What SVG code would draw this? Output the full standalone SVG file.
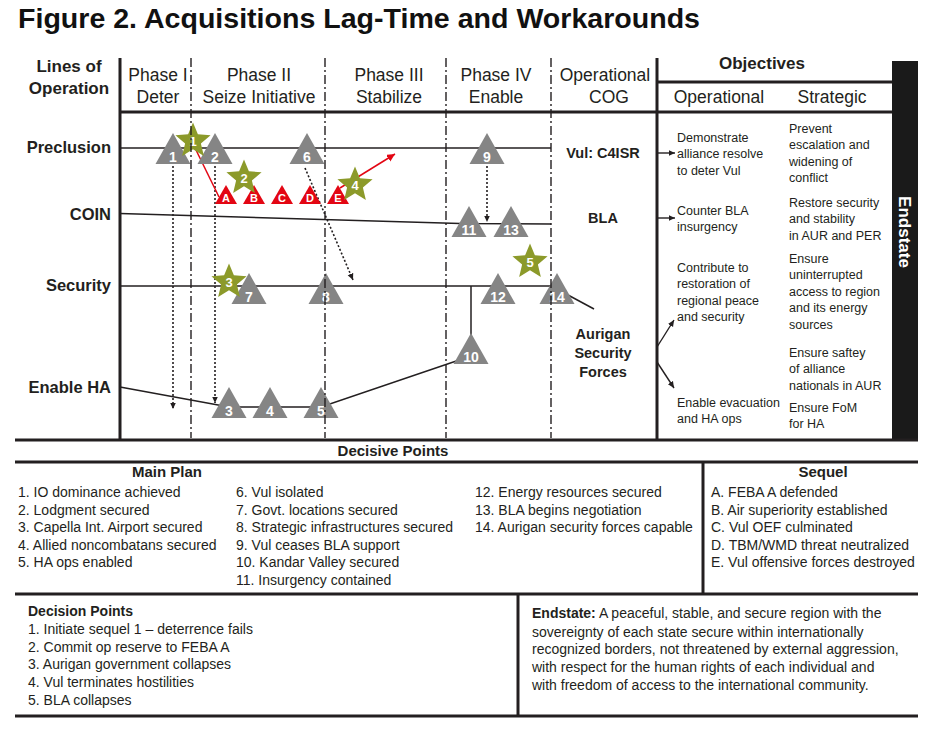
<svg xmlns="http://www.w3.org/2000/svg" width="935" height="733" viewBox="0 0 935 733">
<defs>
<style>
text{font-family:"Liberation Sans",Arial,sans-serif;fill:#231f20}
.title{font-size:28.5px;font-weight:bold;fill:#111}
.hb{font-size:17px;font-weight:bold;text-anchor:middle}
.ph{font-size:17.5px;text-anchor:middle}
.lo{font-size:16.5px;font-weight:bold;text-anchor:end}
.cog{font-size:14.5px;font-weight:bold;text-anchor:middle}
.obj{font-size:12.5px}
.li{font-size:14px}
.sh{font-size:15px;font-weight:bold;text-anchor:middle}
.frame{stroke:#231f20;stroke-width:3;fill:none}
.div{stroke:#231f20;stroke-width:1.4;stroke-dasharray:9 3 2 3;fill:none}
.lop{stroke:#231f20;stroke-width:1.5;fill:none}
.dot{stroke:#231f20;stroke-width:1.6;stroke-dasharray:2 2;fill:none;marker-end:url(#ah)}
.arr{stroke:#231f20;stroke-width:1.4;fill:none;marker-end:url(#ah)}
.red{stroke:#e30613;stroke-width:1.5;fill:none}
.tri{fill:#858585}
.rtri{fill:#e30613}
.star{fill:#8c9a2a}
.nl{fill:#fff;font-weight:bold;font-size:14px;text-anchor:middle}
.sl{fill:#fff;font-weight:bold;font-size:13px;text-anchor:middle}
.rl{fill:#fff;font-weight:bold;font-size:11px;text-anchor:middle}
</style>
<path id="tri" d="M0,-31 L17.5,0 L-17.5,0Z"/>
<path id="rtri" d="M0,-19 L11,0 L-11,0Z"/>
<path id="star" d="M0,-18.5 L4.88,-6.71 L17.59,-5.72 L7.89,2.56 L10.87,14.97 L0,8.3 L-10.87,14.97 L-7.89,2.56 L-17.59,-5.72 L-4.88,-6.71Z"/>
<marker id="ah" markerWidth="8" markerHeight="8" refX="6.5" refY="3.5" orient="auto" markerUnits="userSpaceOnUse"><path d="M0,0.5 L6.5,3.5 L0,6.5Z" fill="#231f20"/></marker>
<marker id="ahr" markerWidth="10" markerHeight="10" refX="8" refY="4" orient="auto" markerUnits="userSpaceOnUse"><path d="M0,0 L8,4 L0,8Z" fill="#e30613"/></marker>
</defs>
<rect width="935" height="733" fill="#fff"/>

<text class="title" x="18" y="28" textLength="682" lengthAdjust="spacingAndGlyphs">Figure 2. Acquisitions Lag-Time and Workarounds</text>

<g id="header">
<text class="hb" x="69" y="72">Lines of</text>
<text class="hb" x="69" y="94">Operation</text>
<text class="ph" x="158" y="81">Phase I</text>
<text class="ph" x="158" y="103">Deter</text>
<text class="ph" x="259" y="81">Phase II</text>
<text class="ph" x="259" y="103">Seize Initiative</text>
<text class="ph" x="389" y="81">Phase III</text>
<text class="ph" x="389" y="103">Stabilize</text>
<text class="ph" x="496" y="81">Phase IV</text>
<text class="ph" x="496" y="103">Enable</text>
<text class="ph" x="605" y="81">Operational</text>
<text class="ph" x="609" y="103">COG</text>
<text class="hb" x="762" y="69">Objectives</text>
<text class="ph" x="719" y="103">Operational</text>
<text class="ph" x="832" y="103">Strategic</text>
</g>

<g id="lines-of-operation">
<text class="lo" x="111" y="153">Preclusion</text>
<text class="lo" x="111" y="220">COIN</text>
<text class="lo" x="111" y="291">Security</text>
<text class="lo" x="111" y="393">Enable HA</text>
</g>

<g id="frame">
<line class="frame" x1="120" y1="58" x2="120" y2="440"/>
<line class="frame" x1="120" y1="112" x2="892" y2="112"/>
<line class="frame" x1="657" y1="58" x2="657" y2="440"/>
<line class="frame" x1="657" y1="82" x2="892" y2="82"/>
<rect id="endstate-bar" x="892" y="61" width="26" height="380" fill="#1a1a1a"/>
<text x="0" y="0" transform="translate(899,232) rotate(90)" style="font-size:17px;font-weight:bold;fill:#fff;text-anchor:middle">Endstate</text>
<line class="frame" x1="15" y1="440" x2="918" y2="440"/>
<line class="frame" x1="15" y1="462" x2="918" y2="462"/>
<line class="frame" x1="703" y1="462" x2="703" y2="594"/>
<line class="frame" x1="15" y1="594" x2="918" y2="594"/>
<line class="frame" x1="518" y1="594" x2="518" y2="716"/>
<line class="frame" x1="15" y1="716" x2="918" y2="716"/>
</g>

<g id="connectors">
<polyline class="lop" points="120,148 551,148"/>
<polyline class="lop" points="120,213.5 460,223.5 551,224"/>
<polyline class="lop" points="120,286 557,286"/>
<polyline class="lop" points="120,387 229,407 321,407 471,356"/>
<line class="lop" x1="471" y1="286" x2="471" y2="340"/>
<line class="lop" x1="568" y1="295" x2="594" y2="309"/>
<line class="dot" x1="173" y1="166" x2="173" y2="409"/>
<line class="dot" x1="215" y1="166" x2="215" y2="403"/>
<line class="dot" x1="487" y1="166" x2="487" y2="222"/>
<line class="dot" x1="305" y1="168" x2="353" y2="280"/>
<line class="red" x1="196" y1="150" x2="219" y2="197"/>
<line class="red" x1="340" y1="188" x2="395" y2="154" marker-end="url(#ahr)"/>
<line class="arr" x1="657" y1="153" x2="675" y2="153"/>
<line class="arr" x1="657" y1="218" x2="675" y2="218"/>
<line class="arr" x1="657" y1="347" x2="674" y2="320"/>
<line class="arr" x1="657" y1="362" x2="674" y2="388"/>
</g>

<g id="decisive-points">
<g id="dp-1"><use href="#tri" class="tri" x="173" y="164"/><text class="nl" x="173" y="162">1</text></g>
<g id="dp-2"><use href="#tri" class="tri" x="215" y="164"/><text class="nl" x="215" y="162">2</text></g>
<g id="dp-6"><use href="#tri" class="tri" x="307" y="164"/><text class="nl" x="307" y="162">6</text></g>
<g id="dp-9"><use href="#tri" class="tri" x="487" y="164"/><text class="nl" x="487" y="162">9</text></g>
<g id="dp-11"><use href="#tri" class="tri" x="469" y="237"/><text class="nl" x="469" y="235">11</text></g>
<g id="dp-13"><use href="#tri" class="tri" x="511" y="237"/><text class="nl" x="511" y="235">13</text></g>
<g id="dp-7"><use href="#tri" class="tri" x="249" y="304"/><text class="nl" x="249" y="302">7</text></g>
<g id="dp-8"><use href="#tri" class="tri" x="326" y="304"/><text class="nl" x="326" y="302">8</text></g>
<g id="dp-12"><use href="#tri" class="tri" x="498" y="304"/><text class="nl" x="498" y="302">12</text></g>
<g id="dp-14"><use href="#tri" class="tri" x="557" y="304"/><text class="nl" x="557" y="302">14</text></g>
<g id="dp-10"><use href="#tri" class="tri" x="471" y="364"/><text class="nl" x="471" y="362">10</text></g>
<g id="dp-3"><use href="#tri" class="tri" x="229" y="418"/><text class="nl" x="229" y="416">3</text></g>
<g id="dp-4"><use href="#tri" class="tri" x="270" y="418"/><text class="nl" x="270" y="416">4</text></g>
<g id="dp-5"><use href="#tri" class="tri" x="321" y="418"/><text class="nl" x="321" y="416">5</text></g>
</g>

<g id="sequel-points">
<g id="seq-A"><use href="#rtri" class="rtri" x="226" y="204"/><text class="rl" x="226" y="202">A</text></g>
<g id="seq-B"><use href="#rtri" class="rtri" x="254" y="204"/><text class="rl" x="254" y="202">B</text></g>
<g id="seq-C"><use href="#rtri" class="rtri" x="282" y="204"/><text class="rl" x="282" y="202">C</text></g>
<g id="seq-D"><use href="#rtri" class="rtri" x="310" y="204"/><text class="rl" x="310" y="202">D</text></g>
<g id="seq-E"><use href="#rtri" class="rtri" x="338" y="204"/><text class="rl" x="338" y="202">E</text></g>
</g>

<g id="decision-points">
<g id="dec-1"><use href="#star" class="star" x="193" y="141"/><text class="sl" x="193" y="146">1</text></g>
<g id="dec-2"><use href="#star" class="star" x="244" y="178"/><text class="sl" x="244" y="183">2</text></g>
<g id="dec-3"><use href="#star" class="star" x="229" y="282"/><text class="sl" x="229" y="287">3</text></g>
<g id="dec-4"><use href="#star" class="star" x="355" y="185"/><text class="sl" x="355" y="190">4</text></g>
<g id="dec-5"><use href="#star" class="star" x="530" y="262"/><text class="sl" x="530" y="267">5</text></g>
</g>

<g id="phase-dividers">
<line class="div" x1="191" y1="58" x2="191" y2="438"/>
<line class="div" x1="325" y1="58" x2="325" y2="438"/>
<line class="div" x1="446" y1="58" x2="446" y2="438"/>
<line class="div" x1="551" y1="58" x2="551" y2="438"/>
</g>

<g id="cog">
<text class="cog" x="603" y="158">Vul: C4ISR</text>
<text class="cog" x="603" y="223">BLA</text>
<text class="cog" x="603" y="339">Aurigan</text>
<text class="cog" x="603" y="358">Security</text>
<text class="cog" x="603" y="377">Forces</text>
</g>

<g id="objectives-operational">
<text class="obj" x="677" y="141.5">Demonstrate</text>
<text class="obj" x="677" y="158">alliance resolve</text>
<text class="obj" x="677" y="174.5">to deter Vul</text>
<text class="obj" x="677" y="214.5">Counter BLA</text>
<text class="obj" x="677" y="231">insurgency</text>
<text class="obj" x="677" y="271.5">Contribute to</text>
<text class="obj" x="677" y="288">restoration of</text>
<text class="obj" x="677" y="304.5">regional peace</text>
<text class="obj" x="677" y="321">and security</text>
<text class="obj" x="677" y="406.5">Enable evacuation</text>
<text class="obj" x="677" y="423">and HA ops</text>
</g>
<g id="objectives-strategic">
<text class="obj" x="789" y="132.5">Prevent</text>
<text class="obj" x="789" y="149">escalation and</text>
<text class="obj" x="789" y="165.5">widening of</text>
<text class="obj" x="789" y="182">conflict</text>
<text class="obj" x="789" y="206.5">Restore security</text>
<text class="obj" x="789" y="223">and stability</text>
<text class="obj" x="789" y="239.5">in AUR and PER</text>
<text class="obj" x="789" y="262.5">Ensure</text>
<text class="obj" x="789" y="279">uninterrupted</text>
<text class="obj" x="789" y="295.5">access to region</text>
<text class="obj" x="789" y="312">and its energy</text>
<text class="obj" x="789" y="328.5">sources</text>
<text class="obj" x="789" y="356.5">Ensure saftey</text>
<text class="obj" x="789" y="373">of alliance</text>
<text class="obj" x="789" y="389.5">nationals in AUR</text>
<text class="obj" x="789" y="411.5">Ensure FoM</text>
<text class="obj" x="789" y="428">for HA</text>
</g>

<g id="legend-main-plan">
<text class="sh" x="393" y="456">Decisive Points</text>
<text class="sh" x="167" y="477">Main Plan</text>
<text class="li" x="18" y="497">1. IO dominance achieved</text>
<text class="li" x="18" y="514.6">2. Lodgment secured</text>
<text class="li" x="18" y="532.2">3. Capella Int. Airport secured</text>
<text class="li" x="18" y="549.8">4. Allied noncombatans secured</text>
<text class="li" x="18" y="567.4">5. HA ops enabled</text>
<text class="li" x="236" y="497">6. Vul isolated</text>
<text class="li" x="236" y="514.6">7. Govt. locations secured</text>
<text class="li" x="236" y="532.2">8. Strategic infrastructures secured</text>
<text class="li" x="236" y="549.8">9. Vul ceases BLA support</text>
<text class="li" x="236" y="567.4">10. Kandar Valley secured</text>
<text class="li" x="236" y="585">11. Insurgency contained</text>
<text class="li" x="475" y="497">12. Energy resources secured</text>
<text class="li" x="475" y="514.6">13. BLA begins negotiation</text>
<text class="li" x="475" y="532.2">14. Aurigan security forces capable</text>
</g>

<g id="legend-sequel">
<text class="sh" x="823" y="477">Sequel</text>
<text class="li" x="711" y="497">A. FEBA A defended</text>
<text class="li" x="711" y="514.6">B. Air superiority established</text>
<text class="li" x="711" y="532.2">C. Vul OEF culminated</text>
<text class="li" x="711" y="549.8">D. TBM/WMD threat neutralized</text>
<text class="li" x="711" y="567.4">E. Vul offensive forces destroyed</text>
</g>

<g id="legend-decision-points">
<text class="li" x="28" y="616" font-weight="bold">Decision Points</text>
<text class="li" x="28" y="634">1. Initiate sequel 1 – deterrence fails</text>
<text class="li" x="28" y="652">2. Commit op reserve to FEBA A</text>
<text class="li" x="28" y="669">3. Aurigan government collapses</text>
<text class="li" x="28" y="687">4. Vul terminates hostilities</text>
<text class="li" x="28" y="705">5. BLA collapses</text>
</g>

<g id="legend-endstate">
<text class="li" x="532" y="618"><tspan font-weight="bold">Endstate:</tspan> A peaceful, stable, and secure region with the</text>
<text class="li" x="532" y="637">sovereignty of each state secure within internationally</text>
<text class="li" x="532" y="654">recognized borders, not threatened by external aggression,</text>
<text class="li" x="532" y="672">with respect for the human rights of each individual and</text>
<text class="li" x="532" y="690">with freedom of access to the international community.</text>
</g>
</svg>
